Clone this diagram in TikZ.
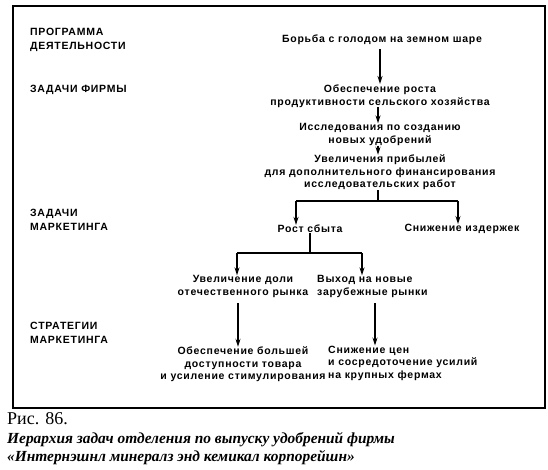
\documentclass[tikz,border=0pt]{standalone}
\usepackage{fontspec}
\setmainfont{Liberation Serif}
\newfontfamily\diafont[LetterSpace=7]{Liberation Sans}
\usetikzlibrary{arrows.meta}
\tikzset{
  txt/.style={font=\diafont\bfseries\fontsize{10.5}{12.5}\selectfont, inner sep=0pt, align=center},
  lbl/.style={font=\diafont\bfseries\fontsize{10.5}{14.5}\selectfont, inner sep=0pt, align=left, anchor=west},
  arr/.style={line width=1.3pt, -{Stealth[length=8pt,width=5pt]}},
  ln/.style={line width=1.3pt},
  frame/.style={line width=1.4pt},
  captxt/.style={anchor=base west, inner sep=0pt}
}
\begin{document}
\begin{tikzpicture}[x=1pt,y=-1pt]
\useasboundingbox (0,0) rectangle (548,470);
\draw[frame] (13,6) rectangle (545,408);
% left labels
\node[lbl] (l1) at (30,40) {ПРОГРАММА\\ДЕЯТЕЛЬНОСТИ};
\node[lbl] (l2) at (30,90) {ЗАДАЧИ ФИРМЫ};
\node[lbl] (l3) at (30,220) {ЗАДАЧИ\\МАРКЕТИНГА};
\node[lbl] (l4) at (30,333) {СТРАТЕГИИ\\МАРКЕТИНГА};
% chain
\node[txt] (n1) at (382,40) {Борьба с голодом на земном шаре};
\node[txt] (n2) at (380,96) {Обеспечение роста\\продуктивности сельского хозяйства};
\node[txt] (n3) at (380,134.5) {Исследования по созданию\\новых удобрений};
\node[txt] (n4) at (380,172.5) {Увеличения прибылей\\для дополнительного финансирования\\исследовательских работ};
\node[txt] (n5) at (310,229) {Рост сбыта};
\node[txt] (n6) at (462,229) {Снижение издержек};
\node[txt] (n7) at (243,286.5) {Увеличение доли\\отечественного рынка};
\node[txt,align=left,anchor=west] (n8) at (317,286.5) {Выход на новые\\зарубежные рынки};
\node[txt] (n9) at (243,364.5) {Обеспечение большей\\доступности товара\\и усиление стимулирования};
\node[txt,align=left,anchor=west] (n10) at (328,363) {Снижение цен\\и сосредоточение усилий\\на крупных фермах};
% connectors
\coordinate (b1) at (378,201);
\coordinate (b1l) at (296,201);
\coordinate (b1r) at (458,201);
\coordinate (b2) at (310,253);
\coordinate (b2l) at (237,253);
\coordinate (b2r) at (362,253);
\coordinate (a1s) at (380,49);
\coordinate (a1e) at (380,84);
\draw[arr] (a1s) -- (a1e);
\draw[arr] (n2.south -| 378,0) -- (n3.north -| 378,0);
\draw[arr] (n3.south -| 378,0) -- (n4.north -| 378,0);
\draw[ln] (b1 |- n4.south) -- (b1);
\draw[ln] (b1l) -- (b1r);
\draw[arr] (b1l) -- (b1l |- n5.north);
\draw[arr] (b1r) -- (b1r |- n6.north);
\draw[ln] (n5.south) -- (b2);
\draw[ln] (b2l) -- (b2r);
\draw[arr] (b2l) -- (b2l |- n7.north);
\draw[arr] (b2r) -- (b2r |- n8.north);
\coordinate (a7s) at (238,303);
\coordinate (a8s) at (375,303);
\draw[arr] (a7s) -- (a7s |- n9.north);
\draw[arr] (a8s) -- (a8s |- n10.north);
% caption
\node[captxt, font=\fontsize{18}{20}\selectfont] (cap) at (7,424) {Рис. 86.};
\node[captxt, font=\bfseries\itshape\fontsize{15.4}{19}\selectfont] (cap2) at (7,443) {Иерархия задач отделения по выпуску удобрений фирмы};
\node[captxt, font=\bfseries\itshape\fontsize{15.4}{19}\selectfont] (cap3) at (7,461) {«Интернэшнл минералз энд кемикал корпорейшн»};
\end{tikzpicture}
\end{document}
